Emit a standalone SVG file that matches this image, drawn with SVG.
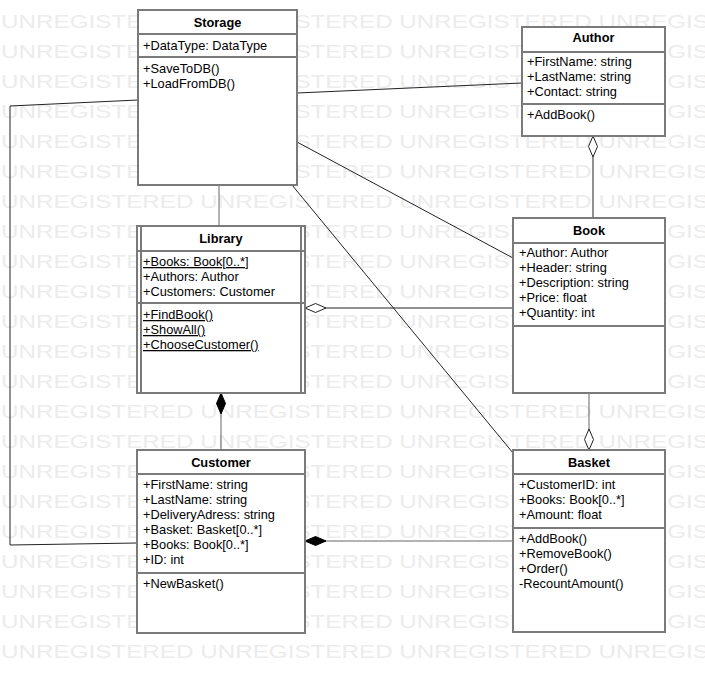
<svg xmlns="http://www.w3.org/2000/svg" width="705" height="673" viewBox="0 0 705 673">
<style>
.wm{font-family:"Liberation Sans",Arial,sans-serif;font-size:19px;fill:#ececec}
.box{fill:#fff;stroke:#7a7a7a;stroke-width:2}
.sep{stroke:#7a7a7a;stroke-width:2}
.t{font-family:"Liberation Sans",Arial,sans-serif;font-size:12.8px;fill:#000}
.h{font-family:"Liberation Sans",Arial,sans-serif;font-size:12.8px;font-weight:bold;fill:#000;text-anchor:middle}
.u{text-decoration:underline}
.c{fill:none;stroke:#222;stroke-width:1}
.g{stroke:#666}
</style>
<defs>
<marker id="hollow" markerUnits="userSpaceOnUse" viewBox="-1 -6 24 12" refX="0" refY="0" markerWidth="24" markerHeight="12" orient="auto" overflow="visible">
<path d="M0,0 L10.5,-4.5 L21,0 L10.5,4.5 Z" fill="#fff" stroke="#222" stroke-width="1"/>
</marker>
<marker id="filled" markerUnits="userSpaceOnUse" viewBox="-1 -6 24 12" refX="0" refY="0" markerWidth="24" markerHeight="12" orient="auto" overflow="visible">
<path d="M0,0 L10.5,-4.5 L21,0 L10.5,4.5 Z" fill="#000" stroke="#000" stroke-width="1"/>
</marker>
</defs>
<rect width="705" height="673" fill="#fff"/>
<g id="watermark">
<text class="wm" x="1" y="28" textLength="790" lengthAdjust="spacingAndGlyphs">UNREGISTERED UNREGISTERED UNREGISTERED UNREGISTERED</text>
<text class="wm" x="1" y="58" textLength="790" lengthAdjust="spacingAndGlyphs">UNREGISTERED UNREGISTERED UNREGISTERED UNREGISTERED</text>
<text class="wm" x="1" y="88" textLength="790" lengthAdjust="spacingAndGlyphs">UNREGISTERED UNREGISTERED UNREGISTERED UNREGISTERED</text>
<text class="wm" x="1" y="118" textLength="790" lengthAdjust="spacingAndGlyphs">UNREGISTERED UNREGISTERED UNREGISTERED UNREGISTERED</text>
<text class="wm" x="1" y="148" textLength="790" lengthAdjust="spacingAndGlyphs">UNREGISTERED UNREGISTERED UNREGISTERED UNREGISTERED</text>
<text class="wm" x="1" y="178" textLength="790" lengthAdjust="spacingAndGlyphs">UNREGISTERED UNREGISTERED UNREGISTERED UNREGISTERED</text>
<text class="wm" x="1" y="208" textLength="790" lengthAdjust="spacingAndGlyphs">UNREGISTERED UNREGISTERED UNREGISTERED UNREGISTERED</text>
<text class="wm" x="1" y="238" textLength="790" lengthAdjust="spacingAndGlyphs">UNREGISTERED UNREGISTERED UNREGISTERED UNREGISTERED</text>
<text class="wm" x="1" y="268" textLength="790" lengthAdjust="spacingAndGlyphs">UNREGISTERED UNREGISTERED UNREGISTERED UNREGISTERED</text>
<text class="wm" x="1" y="298" textLength="790" lengthAdjust="spacingAndGlyphs">UNREGISTERED UNREGISTERED UNREGISTERED UNREGISTERED</text>
<text class="wm" x="1" y="328" textLength="790" lengthAdjust="spacingAndGlyphs">UNREGISTERED UNREGISTERED UNREGISTERED UNREGISTERED</text>
<text class="wm" x="1" y="358" textLength="790" lengthAdjust="spacingAndGlyphs">UNREGISTERED UNREGISTERED UNREGISTERED UNREGISTERED</text>
<text class="wm" x="1" y="388" textLength="790" lengthAdjust="spacingAndGlyphs">UNREGISTERED UNREGISTERED UNREGISTERED UNREGISTERED</text>
<text class="wm" x="1" y="418" textLength="790" lengthAdjust="spacingAndGlyphs">UNREGISTERED UNREGISTERED UNREGISTERED UNREGISTERED</text>
<text class="wm" x="1" y="448" textLength="790" lengthAdjust="spacingAndGlyphs">UNREGISTERED UNREGISTERED UNREGISTERED UNREGISTERED</text>
<text class="wm" x="1" y="478" textLength="790" lengthAdjust="spacingAndGlyphs">UNREGISTERED UNREGISTERED UNREGISTERED UNREGISTERED</text>
<text class="wm" x="1" y="508" textLength="790" lengthAdjust="spacingAndGlyphs">UNREGISTERED UNREGISTERED UNREGISTERED UNREGISTERED</text>
<text class="wm" x="1" y="538" textLength="790" lengthAdjust="spacingAndGlyphs">UNREGISTERED UNREGISTERED UNREGISTERED UNREGISTERED</text>
<text class="wm" x="1" y="568" textLength="790" lengthAdjust="spacingAndGlyphs">UNREGISTERED UNREGISTERED UNREGISTERED UNREGISTERED</text>
<text class="wm" x="1" y="598" textLength="790" lengthAdjust="spacingAndGlyphs">UNREGISTERED UNREGISTERED UNREGISTERED UNREGISTERED</text>
<text class="wm" x="1" y="628" textLength="790" lengthAdjust="spacingAndGlyphs">UNREGISTERED UNREGISTERED UNREGISTERED UNREGISTERED</text>
<text class="wm" x="1" y="658" textLength="790" lengthAdjust="spacingAndGlyphs">UNREGISTERED UNREGISTERED UNREGISTERED UNREGISTERED</text>
</g>
<g id="connectors">
<path class="c" d="M138,100 L10,106 L10,545 L137,543"/>
<path class="c" d="M297,93 L522,83"/>
<path class="c" d="M297,142 L513,258"/>
<path class="c" d="M292,185 L513,453"/>
<path class="c g" d="M219,185 L219,226"/>
<path class="c" d="M593,136 L593,218" marker-start="url(#hollow)"/>
<path class="c" d="M305,308 L513,308" marker-start="url(#hollow)"/>
<path class="c g" d="M589,450 L589,393" marker-start="url(#hollow)"/>
<path class="c g" d="M221,393 L221,450" marker-start="url(#filled)"/>
<path class="c g" d="M305,541 L513,541" marker-start="url(#filled)"/>
</g>
<g id="Storage">
<rect class="box" x="138" y="10" width="159" height="175"/>
<line class="sep" x1="138" y1="34" x2="297" y2="34"/>
<line class="sep" x1="138" y1="57" x2="297" y2="57"/>
<text class="h" x="217.5" y="27">Storage</text>
<text class="t" x="143" y="50">+DataType: DataType</text>
<text class="t" x="143" y="73">+SaveToDB()</text>
<text class="t" x="143" y="88">+LoadFromDB()</text>
</g>
<g id="Author">
<rect class="box" x="522" y="27" width="143" height="109"/>
<line class="sep" x1="522" y1="52" x2="665" y2="52"/>
<line class="sep" x1="522" y1="104" x2="665" y2="104"/>
<text class="h" x="593.5" y="42">Author</text>
<text class="t" x="527" y="66">+FirstName: string</text>
<text class="t" x="527" y="81">+LastName: string</text>
<text class="t" x="527" y="96">+Contact: string</text>
<text class="t" x="527" y="119">+AddBook()</text>
</g>
<g id="Library">
<rect class="box" x="137" y="226" width="168" height="167"/>
<line class="sep" x1="141" y1="226" x2="141" y2="393"/>
<line class="sep" x1="301" y1="226" x2="301" y2="393"/>
<line class="sep" x1="137" y1="251" x2="305" y2="251"/>
<line class="sep" x1="137" y1="303" x2="305" y2="303"/>
<text class="h" x="221" y="243">Library</text>
<text class="t u" x="143" y="266">+Books: Book[0..*]</text>
<text class="t" x="143" y="281">+Authors: Author</text>
<text class="t" x="143" y="296">+Customers: Customer</text>
<text class="t u" x="143" y="319">+FindBook()</text>
<text class="t u" x="143" y="334">+ShowAll()</text>
<text class="t u" x="143" y="349">+ChooseCustomer()</text>
</g>
<g id="Book">
<rect class="box" x="513" y="218" width="152" height="175"/>
<line class="sep" x1="513" y1="243" x2="665" y2="243"/>
<line class="sep" x1="513" y1="326" x2="665" y2="326"/>
<text class="h" x="589" y="235">Book</text>
<text class="t" x="519" y="257">+Author: Author</text>
<text class="t" x="519" y="272">+Header: string</text>
<text class="t" x="519" y="287">+Description: string</text>
<text class="t" x="519" y="302">+Price: float</text>
<text class="t" x="519" y="317">+Quantity: int</text>
</g>
<g id="Customer">
<rect class="box" x="137" y="450" width="168" height="183"/>
<line class="sep" x1="137" y1="474" x2="305" y2="474"/>
<line class="sep" x1="137" y1="573" x2="305" y2="573"/>
<text class="h" x="221" y="467">Customer</text>
<text class="t" x="143" y="489">+FirstName: string</text>
<text class="t" x="143" y="504">+LastName: string</text>
<text class="t" x="143" y="519">+DeliveryAdress: string</text>
<text class="t" x="143" y="534">+Basket: Basket[0..*]</text>
<text class="t" x="143" y="549">+Books: Book[0..*]</text>
<text class="t" x="143" y="564">+ID: int</text>
<text class="t" x="143" y="588">+NewBasket()</text>
</g>
<g id="Basket">
<rect class="box" x="513" y="450" width="152" height="182"/>
<line class="sep" x1="513" y1="474" x2="665" y2="474"/>
<line class="sep" x1="513" y1="528" x2="665" y2="528"/>
<text class="h" x="589" y="467">Basket</text>
<text class="t" x="519" y="489">+CustomerID: int</text>
<text class="t" x="519" y="504">+Books: Book[0..*]</text>
<text class="t" x="519" y="519">+Amount: float</text>
<text class="t" x="519" y="543">+AddBook()</text>
<text class="t" x="519" y="558">+RemoveBook()</text>
<text class="t" x="519" y="573">+Order()</text>
<text class="t" x="519" y="588">-RecountAmount()</text>
</g>
</svg>
